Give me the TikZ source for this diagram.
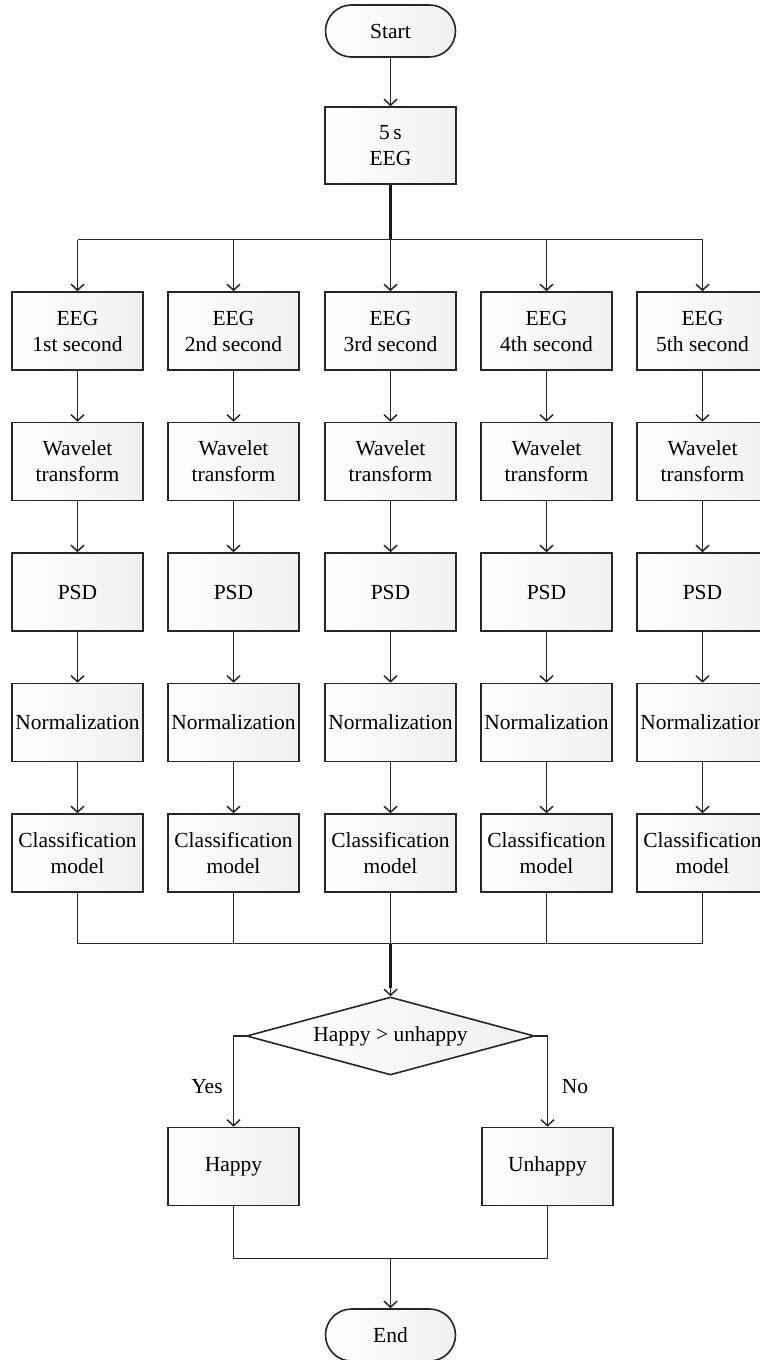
\documentclass[tikz,border=0pt]{standalone}
\usepackage{fontspec}
\setmainfont{Liberation Serif}
\usetikzlibrary{arrows.meta,shapes.geometric,calc}
\begin{document}
\begin{tikzpicture}[x=1pt,y=-1pt,
  line/.style={draw=black!85, line width=1.6pt},
  thick line/.style={draw=black!90, line width=2.2pt},
  arr/.style={line, -{Straight Barb[length=6pt,width=13pt,line width=1.5pt]}},
  box/.style={draw=black!85, line width=1.6pt, left color=white, right color=black!6,
    minimum width=131pt, minimum height=78pt, inner sep=0pt, align=center,
    font=\fontsize{21.5}{26}\selectfont},
  term/.style={box, rounded corners=26pt, minimum height=52pt, minimum width=130pt},
  dec/.style={box, diamond, minimum width=288pt, minimum height=78pt, aspect=3.7},
  lbl/.style={font=\fontsize{21.5}{26}\selectfont, inner sep=0pt}]
\fill[white] (0,0) rectangle (760,1360);
\clip (0,0) rectangle (760,1360);
\useasboundingbox (0,0) rectangle (760,1360);

\node[term] (start) at (390.5,31) {Start};
\node[box, minimum height=77pt] (eeg5) at (390.5,145.5) {5\,s\\EEG};
\draw[arr] (start) -- (eeg5);

\coordinate (split) at (390.5,239.5);
\coordinate (merge) at (390.5,943.5);

\foreach \c/\x/\ord in {1/77.5/1st,2/233.5/2nd,3/390.5/3rd,4/546.5/4th,5/702.5/5th}{
  \node[box] (a\c) at (\x,331) {EEG\\\ord\ second};
  \node[box] (b\c) at (\x,461.5) {Wavelet\\transform};
  \node[box] (p\c) at (\x,592) {PSD};
  \node[box] (n\c) at (\x,722.5) {Normalization};
  \node[box] (m\c) at (\x,853) {Classification\\model};
  \draw[arr] (split -| a\c) -- (a\c);
  \draw[arr] (a\c) -- (b\c);
  \draw[arr] (b\c) -- (p\c);
  \draw[arr] (p\c) -- (n\c);
  \draw[arr] (n\c) -- (m\c);
  \draw[line] (m\c) -- (merge -| m\c);
}
\draw[thick line] (eeg5) -- (split);
\draw[line] (split -| a1) -- (split -| a5);
\draw[line] (merge -| m1) -- (merge -| m5);

\node[dec] (dec) at (390.5,1036) {Happy > unhappy};
\draw[thick line] (merge) -- ($(dec.north)+(0,-8)$);
\draw[arr] ($(dec.north)+(0,-10)$) -- (dec.north);

\node[box] (happy) at (233.5,1166.5) {Happy};
\node[box] (unhappy) at (547.5,1166.5) {Unhappy};
\draw[arr] (dec.west) -| (happy.north);
\draw[arr] (dec.east) -| (unhappy.north);
\node[lbl] (yes) at (207,1087) {Yes};
\node[lbl] (no) at (575,1087) {No};

\coordinate (merge2) at (390.5,1258.5);
\node[term] (end) at (390.5,1335) {End};
\draw[line] (happy) |- (merge2);
\draw[line] (unhappy) |- (merge2);
\draw[arr] (merge2) -- (end);
\end{tikzpicture}
\end{document}
